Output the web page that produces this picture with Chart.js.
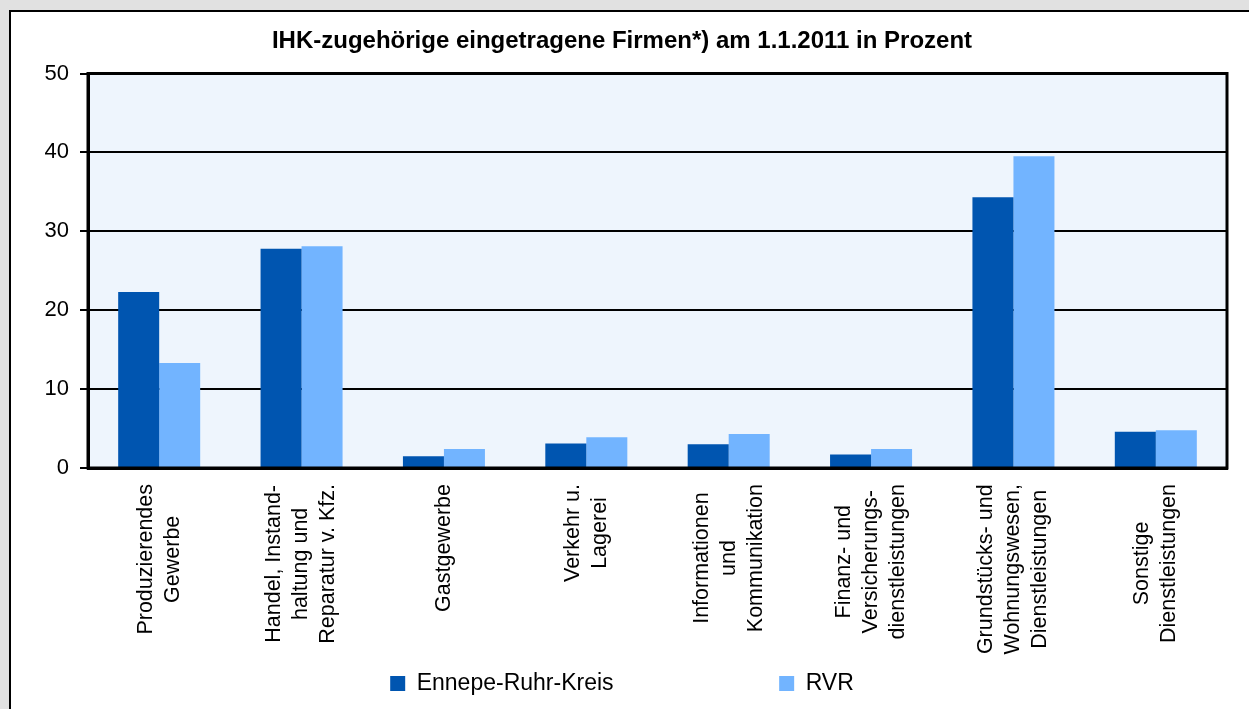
<!DOCTYPE html>
<html>
<head>
<meta charset="utf-8">
<script src="https://cdn.jsdelivr.net/npm/chart.js@4/dist/chart.umd.min.js"></script>
<style>
  html, body { margin:0; padding:0; }
  body { width:1249px; height:709px; overflow:hidden; background:#e1e1e1; position:relative; font-family:"Liberation Sans", Arial, sans-serif; }
  #panel { position:absolute; left:9px; top:10px; width:1260px; height:720px; background:#ffffff; border-left:2px solid #000; border-top:2px solid #000; }
  #wrap { position:absolute; left:0; top:0; width:1249px; height:709px; }
</style>
</head>
<body>
<div id="panel"></div>
<div id="wrap"><canvas id="c" width="1249" height="709"></canvas></div>
<script>
const titleText = "IHK-zugehörige eingetragene Firmen*) am 1.1.2011 in Prozent";
const categories = [
  ["Produzierendes", "Gewerbe"],
  ["Handel, Instand-", "haltung und", "Reparatur v. Kfz."],
  ["Gastgewerbe"],
  ["Verkehr u.", "Lagerei"],
  ["Informationen", "und", "Kommunikation"],
  ["Finanz- und", "Versicherungs-", "dienstleistungen"],
  ["Grundstücks- und", "Wohnungswesen,", "Dienstleistungen"],
  ["Sonstige", "Dienstleistungen"]
];
const seriesNames = ["Ennepe-Ruhr-Kreis", "RVR"];
const ennepeRuhrKreis = [22.3, 27.8, 1.5, 3.1, 3.0, 1.7, 34.3, 4.6];
const rvr = [13.3, 28.1, 2.4, 3.9, 4.3, 2.4, 39.5, 4.8];
const yTicks = [0, 10, 20, 30, 40, 50];

const FONT = '"Liberation Sans", Arial, sans-serif';

const plotFrame = {
  id: 'plotFrame',
  beforeDraw(chart) {
    const a = chart.chartArea, ctx = chart.ctx;
    ctx.save();
    ctx.fillStyle = '#eef5fd';
    ctx.fillRect(a.left, a.top, a.right - a.left, a.bottom - a.top);
    ctx.restore();
  },
  afterDatasetsDraw(chart) {
    const a = chart.chartArea, ctx = chart.ctx;
    ctx.save();
    ctx.strokeStyle = '#000';
    ctx.lineWidth = 3;
    ctx.strokeRect(a.left, a.top, a.right - a.left, a.bottom - a.top);
    ctx.restore();
  }
};

const rotatedLabels = {
  id: 'rotatedLabels',
  afterDraw(chart) {
    const xs = chart.scales.x, ctx = chart.ctx;
    const lineH = 27;
    ctx.save();
    ctx.fillStyle = '#000';
    ctx.font = '21.5px ' + FONT;
    ctx.textAlign = 'center';
    ctx.textBaseline = 'middle';
    chart.data.labels.forEach((lines, i) => {
      const x = xs.getPixelForTick(i);
      const maxW = Math.max(...lines.map(l => ctx.measureText(l).width));
      ctx.save();
      ctx.translate(x, chart.chartArea.bottom + 16);
      ctx.rotate(-Math.PI / 2);
      lines.forEach((l, k) => {
        ctx.fillText(l, -maxW / 2, (k - (lines.length - 1) / 2) * lineH);
      });
      ctx.restore();
    });
    ctx.restore();
  }
};

new Chart(document.getElementById('c'), {
  type: 'bar',
  data: {
    labels: categories,
    datasets: [
      { label: seriesNames[0], data: ennepeRuhrKreis, backgroundColor: '#0055b0', borderWidth: 0,
        categoryPercentage: 0.576, barPercentage: 1.0 },
      { label: seriesNames[1], data: rvr, backgroundColor: '#72b4ff', borderWidth: 0,
        categoryPercentage: 0.576, barPercentage: 1.0 }
    ]
  },
  options: {
    responsive: false,
    devicePixelRatio: 1,
    animation: false,
    layout: { padding: { left: 17, right: 22, top: 0, bottom: 4 } },
    plugins: {
      title: {
        display: true, text: titleText, color: '#000',
        font: { family: FONT, size: 24, weight: 'bold', lineHeight: 1.2 },
        padding: { top: 27, bottom: 17.7 }
      },
      legend: {
        display: true, position: 'bottom', align: 'center',
        labels: {
          color: '#000', font: { family: FONT, size: 23 },
          boxWidth: 15, boxHeight: 15, padding: 165.6
        }
      },
      tooltip: { enabled: false }
    },
    scales: {
      x: {
        grid: { display: false },
        border: { display: true, color: '#000', width: 3 },
        ticks: { display: false },
        afterFit(scale) { scale.height = 709 - 4 - (23 + 165.6 + 10) - 468; }
      },
      y: {
        min: 0, max: 50,
        afterBuildTicks(scale) { scale.ticks = yTicks.map(v => ({ value: v })); },
        afterFit(scale) { scale.width = 71; },
        grid: { color: '#000', lineWidth: 2, drawTicks: true, tickLength: 8, tickColor: '#000', tickWidth: 2 },
        border: { display: true, color: '#000', width: 3 },
        ticks: { color: '#000', padding: 11, font: { family: FONT, size: 22 } }
      }
    }
  },
  plugins: [plotFrame, rotatedLabels]
});
</script>
</body>
</html>
